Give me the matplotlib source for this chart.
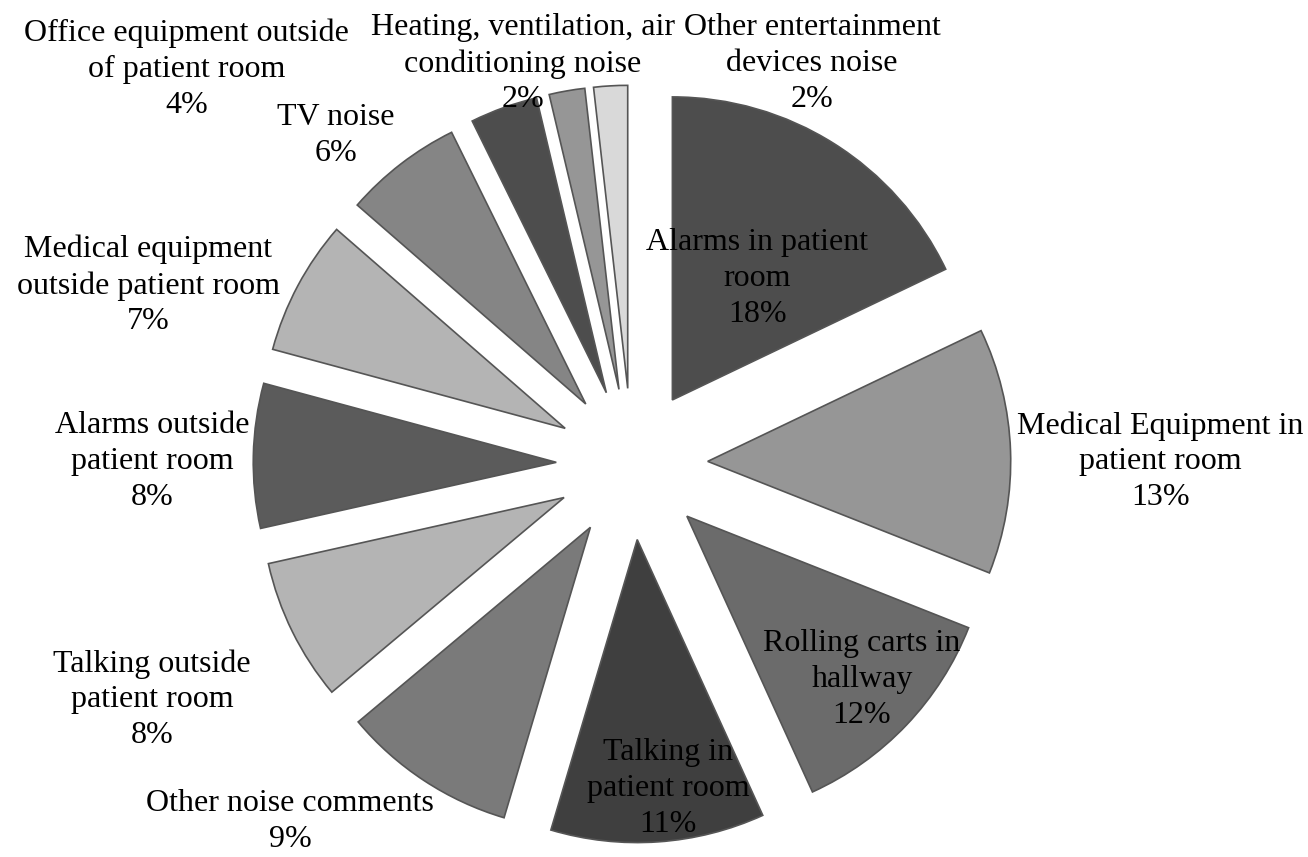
import matplotlib.pyplot as plt

plt.rcParams['font.family'] = ['Liberation Serif', 'DejaVu Serif']

categories = [
    'Alarms in patient\nroom',
    'Medical Equipment in\npatient room',
    'Rolling carts in\nhallway',
    'Talking in\npatient room',
    'Other noise comments',
    'Talking outside\npatient room',
    'Alarms outside\npatient room',
    'Medical equipment\noutside patient room',
    'TV noise',
    'Office equipment outside\nof patient room',
    'Heating, ventilation, air\nconditioning noise',
    'Other entertainment\ndevices noise',
]
shares = [17.9, 13.1, 12.2, 11.4, 9.3, 7.6, 7.7, 7.2, 6.3, 3.6, 1.9, 1.8]

colors = ['#4d4d4d', '#969696', '#6b6b6b', '#3f3f3f', '#7a7a7a', '#b4b4b4',
          '#5b5b5b', '#b4b4b4', '#858585', '#4d4d4d', '#969696', '#d9d9d9']

# label anchor points (pie radius = 1, centre at origin)
label_xy = [
    (0.413, 0.612), (1.743, 0.008), (0.759, -0.712), (0.119, -1.071),
    (-1.129, -1.180), (-1.584, -0.778), (-1.584, 0.008), (-1.597, 0.589),
    (-0.977, 1.083), (-1.469, 1.302), (-0.360, 1.321), (0.594, 1.321),
]

W, H = 1308, 857
cx, cy, R = 632, 464, 303

fig = plt.figure(figsize=(W / 100, H / 100), dpi=100)
ax = fig.add_axes([0, 0, 1, 1])

ax.pie(shares, explode=[0.25] * len(shares), colors=colors,
       startangle=90, counterclock=False, radius=1,
       wedgeprops=dict(edgecolor='#555555', linewidth=1.2))

total = sum(shares)
for name, val, (x, y) in zip(categories, shares, label_xy):
    pct = 100 * val / total
    ax.text(x, y, f'{name}\n{pct:.0f}%', ha='center', va='center',
            fontsize=23, linespacing=1.31, color='black')

ax.set_xlim(-cx / R, (W - cx) / R)
ax.set_ylim(-(H - cy) / R, cy / R)
ax.set_aspect('auto')
ax.axis('off')

fig.savefig('out.png', dpi=100)
